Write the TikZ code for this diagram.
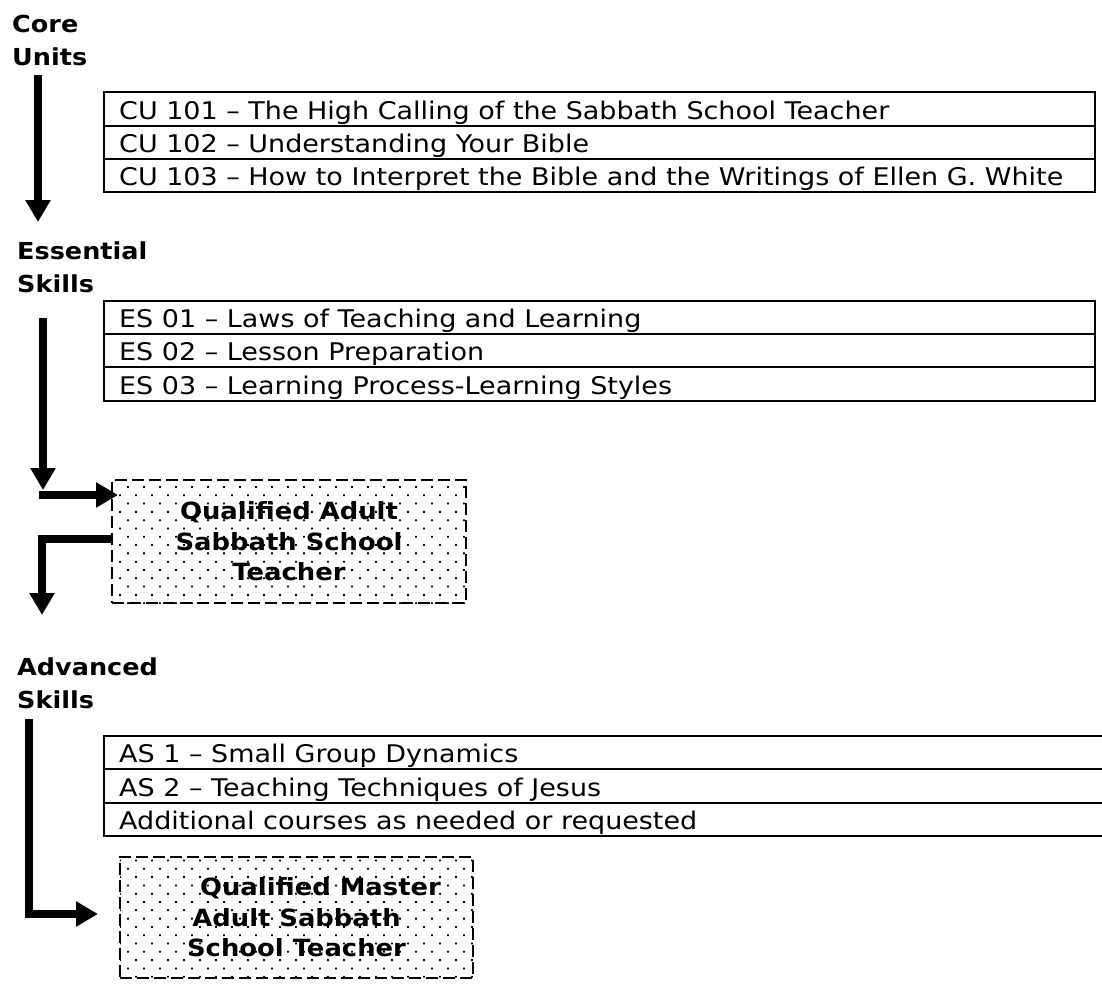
\documentclass[tikz,border=0pt]{standalone}
\usepackage{fontspec}
\setmainfont{DejaVu Sans}[FakeStretch=1.09]
\newfontfamily\tabfont{DejaVu Sans}[FakeStretch=1.11]
\usetikzlibrary{arrows.meta,patterns}
\pgfdeclarepatternformonly{qdots}{\pgfqpoint{-2pt}{-2pt}}{\pgfqpoint{10pt}{10.5pt}}{\pgfqpoint{16pt}{16.6pt}}{%
  \pgfpathrectangle{\pgfqpoint{-0.9pt}{-0.9pt}}{\pgfqpoint{1.8pt}{1.8pt}}%
  \pgfpathrectangle{\pgfqpoint{7.1pt}{7.4pt}}{\pgfqpoint{1.8pt}{1.8pt}}%
  \pgfusepath{fill}}
\begin{document}
\begin{tikzpicture}[x=1pt,y=-1pt,
  heading/.style={font=\fontsize{23.4}{33}\selectfont\bfseries, align=left, anchor=base west, inner sep=0pt},
  cell/.style={font=\tabfont\fontsize{24.3}{28}\selectfont, anchor=base west, inner sep=0pt},
  rule/.style={line width=2.8pt},
  flow/.style={line width=7.5pt, line join=miter, -{Triangle[width=24pt,length=22pt]}},
  qbox/.style={draw, dash pattern=on 12pt off 5pt, line width=1.8pt, pattern=qdots,
    font=\fontsize{23.7}{30.5}\selectfont\bfseries, align=center, inner sep=0pt},
]
\useasboundingbox (0,0) rectangle (1102,985);

% headings (anchored at the baseline of their last line)
\node[heading] (core) at (12,65) {Core\\Units};
\node[heading] (ess) at (17,292) {Essential\\Skills};
\node[heading] (adv) at (17,708) {Advanced\\Skills};

% CU table
\draw[rule] (104,92) rectangle (1095,192);
\draw[rule] (104,126) -- (1095,126);
\draw[rule] (104,159) -- (1095,159);
\node[cell] (cu1) at (119,119.5) {CU 101 – The High Calling of the Sabbath School Teacher};
\node[cell] (cu2) at (119,152.5) {CU 102 – Understanding Your Bible};
\node[cell] (cu3) at (119,185.5) {CU 103 – How to Interpret the Bible and the Writings of Ellen G. White};

% ES table
\draw[rule] (104,301) rectangle (1095,401);
\draw[rule] (104,334) -- (1095,334);
\draw[rule] (104,367) -- (1095,367);
\node[cell] (es1) at (119,327.5) {ES 01 – Laws of Teaching and Learning};
\node[cell] (es2) at (119,360.5) {ES 02 – Lesson Preparation};
\node[cell] (es3) at (119,394) {ES 03 – Learning Process-Learning Styles};

% AS table (runs off the right edge)
\draw[rule] (1115,736) -- (104,736) -- (104,836) -- (1115,836);
\draw[rule] (104,769) -- (1115,769);
\draw[rule] (104,803) -- (1115,803);
\node[cell] (as1) at (119,762.5) {AS 1 – Small Group Dynamics};
\node[cell] (as2) at (119,796.5) {AS 2 – Teaching Techniques of Jesus};
\node[cell] (as3) at (119,829.5) {Additional courses as needed or requested};

% qualification boxes
\node[qbox, minimum width=354pt, minimum height=123pt] (qa) at (289,541.5)
  {Qualified Adult\\Sabbath School\\Teacher};
\node[qbox, minimum width=353pt, minimum height=121pt] (qm) at (296.5,917.5)
  {\hspace*{48pt}Qualified Master\\Adult Sabbath\\School Teacher};

% connector end points
\coordinate (a1s) at (38,75);
\coordinate (a1e) at (38,222);
\coordinate (a2s) at (43,318);
\coordinate (a2e) at (43,490);
\coordinate (a2hs) at (39,495);
\coordinate (a2he) at (118,495);
\coordinate (a3s) at (qa.west |- 0,539);
\coordinate (a3e) at (42,615);
\coordinate (a4s) at (29,719);
\coordinate (a4e) at (98,914);

\draw[flow] (a1s) -- (a1e);
\draw[flow] (a2s) -- (a2e);
\draw[flow] (a2hs) -- (a2he);
\draw[flow] (a3s) -| (a3e);
\draw[flow] (a4s) |- (a4e);
\end{tikzpicture}
\end{document}
